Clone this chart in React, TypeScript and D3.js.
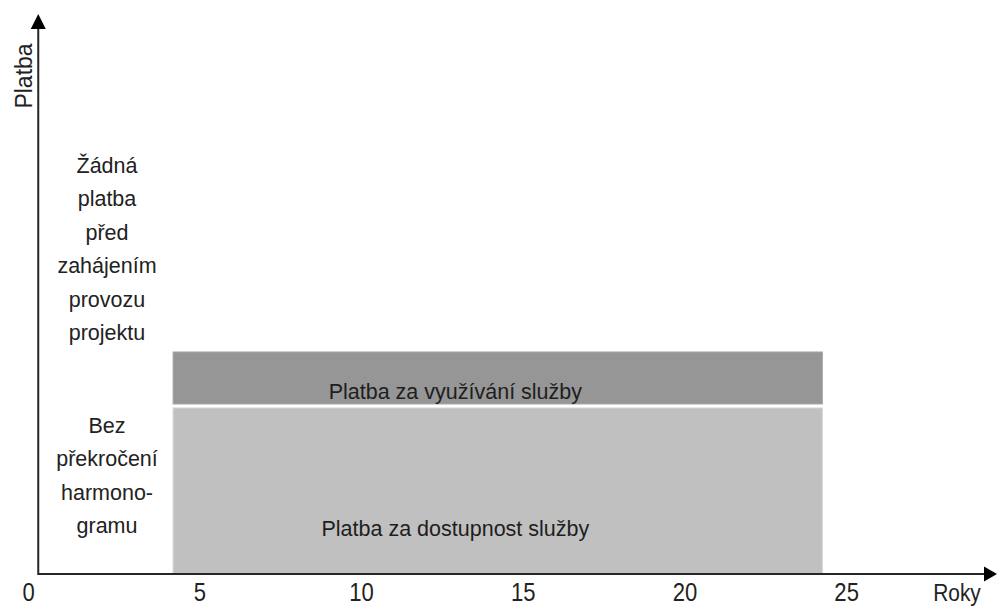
import { useEffect, useRef } from "react";
import * as d3 from "d3";

// years on the x axis
const xTicks = [0, 5, 10, 15, 20, 25];
const xMax = 29.65;
const yMax = 170;

// payment bands: [startYear, endYear, bottom, top]
const bandNames = ["Platba za dostupnost služby", "Platba za využívání služby"];
const bandStart = [4.17, 4.17];
const bandEnd = [24.25, 24.25];
const bandBottom = [0, 51];
const bandTop = [51, 67.4];
const bandColors = ["#c0c0c0", "#969696"];
// label anchor (year, value) inside each band
const bandLabelX = [12.9, 12.9];
const bandLabelY = [11.5, 53.2];

// notes on the left of the chart
const upperNote = ["Žádná", "platba", "před", "zahájením", "provozu", "projektu"];
const lowerNote = ["Bez", "překročení", "harmono-", "gramu"];

export default function App() {
  const ref = useRef<SVGSVGElement | null>(null);
  const width = 997;
  const height = 606;

  useEffect(() => {
    const svg = d3.select(ref.current);
    svg.selectAll("*").remove();

    const font = "'Liberation Sans', Arial, sans-serif";
    const x = d3.scaleLinear().domain([0, xMax]).range([38.25, 997]);
    const y = d3.scaleLinear().domain([0, yMax]).range([574, 14]);

    svg.append("rect").attr("width", width).attr("height", height).attr("fill", "#fff");

    // bands
    const gap = 2;
    bandNames.forEach((name, i) => {
      const y0 = y(bandBottom[i]) - (i > 0 ? gap : 0);
      const y1 = y(bandTop[i]) + (i === 0 ? gap : 0);
      svg
        .append("rect")
        .attr("x", x(bandStart[i]))
        .attr("y", y1)
        .attr("width", x(bandEnd[i]) - x(bandStart[i]))
        .attr("height", y0 - y1)
        .attr("fill", bandColors[i])
        .attr("stroke", d3.color(bandColors[i])!.brighter(0.3).toString())
        .attr("stroke-width", 1);
      svg
        .append("text")
        .attr("x", x(bandLabelX[i]))
        .attr("y", y(bandLabelY[i]))
        .attr("text-anchor", "middle")
        .attr("font-family", font)
        .attr("font-size", 21.5)
        .attr("fill", "#1e1e1e")
        .text(name);
    });

    // axes with arrow heads
    const axisColor = "#262626";
    svg
      .append("line")
      .attr("x1", x(0))
      .attr("x2", x(xMax) - 8)
      .attr("y1", y(0))
      .attr("y2", y(0))
      .attr("stroke", axisColor)
      .attr("stroke-width", 2);
    svg
      .append("line")
      .attr("x1", x(0))
      .attr("x2", x(0))
      .attr("y1", y(0) + 1)
      .attr("y2", y(yMax) + 10)
      .attr("stroke", axisColor)
      .attr("stroke-width", 2);
    const xt = x(xMax), yt = y(0);
    svg
      .append("path")
      .attr("d", `M${xt},${yt} L${xt - 13},${yt - 7.5} L${xt - 13},${yt + 7.5} Z`)
      .attr("fill", "#000");
    const ax = x(0), ay = y(yMax);
    svg
      .append("path")
      .attr("d", `M${ax},${ay} L${ax - 7.5},${ay + 15} L${ax + 7.5},${ay + 15} Z`)
      .attr("fill", "#000");

    // tick labels (slightly condensed, like the original)
    const ticks = svg.append("g");
    ticks
      .selectAll("text")
      .data(xTicks)
      .join("text")
      .attr("transform", (d) => `translate(${d === 0 ? x(d) - 9.5 : x(d)},601) scale(0.92,1.08)`)
      .attr("text-anchor", "middle")
      .attr("font-family", font)
      .attr("font-size", 24)
      .attr("fill", "#222")
      .text((d) => d);

    svg
      .append("text")
      .attr("transform", "translate(957,601) scale(0.95,1.08)")
      .attr("text-anchor", "middle")
      .attr("font-family", font)
      .attr("font-size", 22)
      .attr("fill", "#222")
      .text("Roky");

    svg
      .append("text")
      .attr("transform", `translate(32,76) rotate(-90)`)
      .attr("text-anchor", "middle")
      .attr("font-family", font)
      .attr("font-size", 23)
      .attr("fill", "#222")
      .text("Platba");

    // left notes
    const drawNote = (lines: string[], firstBaseline: number) => {
      svg
        .append("g")
        .selectAll("text")
        .data(lines)
        .join("text")
        .attr("x", 107)
        .attr("y", (_, i) => firstBaseline + i * 33.4)
        .attr("text-anchor", "middle")
        .attr("font-family", font)
        .attr("font-size", 21.5)
        .attr("fill", "#222")
        .text((d) => d);
    };
    drawNote(upperNote, 173);
    drawNote(lowerNote, 433);
  }, []);

  return (
    <svg
      ref={ref}
      width={width}
      height={height}
      style={{ position: "absolute", left: 0, top: 0 }}
    />
  );
}
